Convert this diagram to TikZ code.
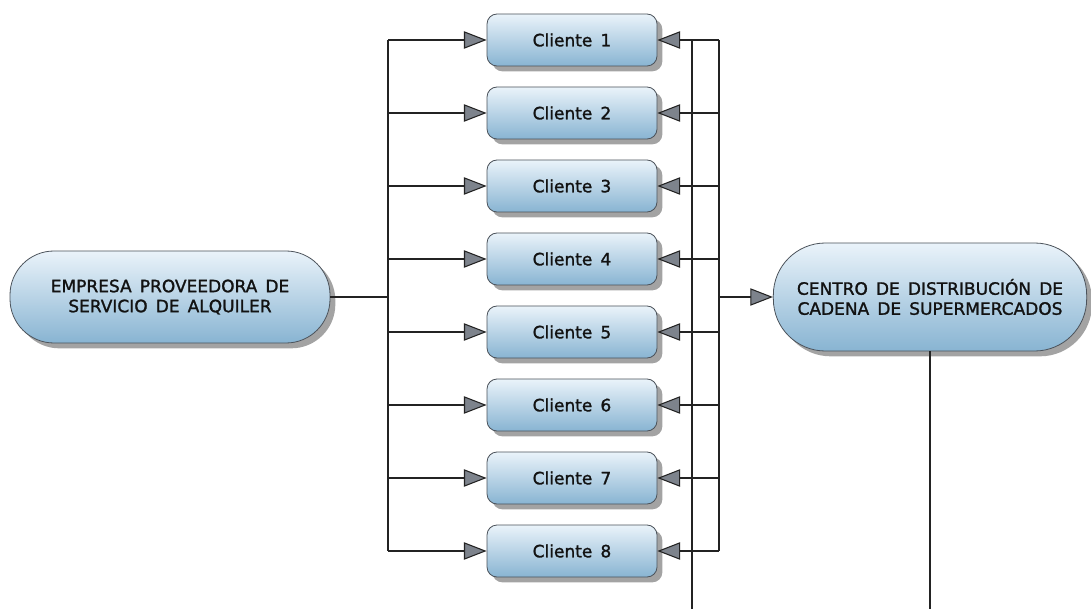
\documentclass[tikz,border=0pt]{standalone}
\usepackage{fontspec}
\setmainfont{DejaVu Sans}
\newfontfamily\labelfont[FakeBold=1.4,WordSpace=1.5]{DejaVu Sans}
\usetikzlibrary{arrows.meta,shadows}

\definecolor{boxtop}{RGB}{234,243,250}
\definecolor{boxbottom}{RGB}{136,180,210}
\definecolor{boxedge}{RGB}{75,82,90}
\definecolor{wire}{RGB}{35,35,35}
\definecolor{tipfill}{RGB}{125,131,140}
\definecolor{textdark}{RGB}{18,18,18}

\tikzset{
  box/.style={
    draw=boxedge, line width=0.6pt,
    top color=boxtop, bottom color=boxbottom,
    drop shadow={shadow xshift=4pt, shadow yshift=-4pt, fill=black!72},
    text=textdark, font=\labelfont\fontsize{12.75}{15}\selectfont,
    align=center, inner sep=0pt
  },
  client/.style={box, minimum width=127.5pt, minimum height=39pt, rounded corners=7.5pt},
  bignode/.style={box, rounded corners=33pt},
  wirestyle/.style={draw=wire, line width=2pt},
  feed/.style={wirestyle,
    -{Triangle[length=17pt,width=13pt,fill=tipfill,line width=0.8pt]}}
}

\begin{document}
\begin{tikzpicture}[x=0.75pt,y=-0.75pt]
  \useasboundingbox (0,0) rectangle (1091,609);

  % supplier and distribution centre
  \node[bignode, minimum width=240pt, minimum height=69pt] (prov) at (170,297)
    {EMPRESA PROVEEDORA DE\\SERVICIO DE ALQUILER};
  \node[bignode, minimum width=235pt, minimum height=81pt, rounded corners=39pt] (centro) at (930,297)
    {CENTRO DE DISTRIBUCIÓN DE\\CADENA DE SUPERMERCADOS};

  % clients
  \foreach \i in {1,...,8} {
    \node[client] (c\i) at (572,{40+73*(\i-1)}) {Cliente \i};
  }

  % bus points
  \coordinate (bl) at (388,297);
  \coordinate (br) at (719,297);
  \coordinate (r2) at (692,609);

  % left distribution bus
  \draw[wirestyle] (prov.east) -- (bl);
  \draw[wirestyle] (c1.west -| bl) -- (c8.west -| bl);
  \foreach \i in {1,...,8} {
    \draw[feed] (c\i.west -| bl) -- (c\i.west);
  }

  % right return bus
  \draw[wirestyle] (c1.east -| br) -- (c8.east -| br);
  \foreach \i in {1,...,8} {
    \draw[feed] (c\i.east -| br) -- (c\i.east);
  }
  \draw[feed] (br) -- (centro.west);

  % lines running off the bottom edge
  \draw[wirestyle] (c1.east -| r2) -- (r2);
  \draw[wirestyle] (centro.south) -- (centro.south |- r2);
\end{tikzpicture}
\end{document}
